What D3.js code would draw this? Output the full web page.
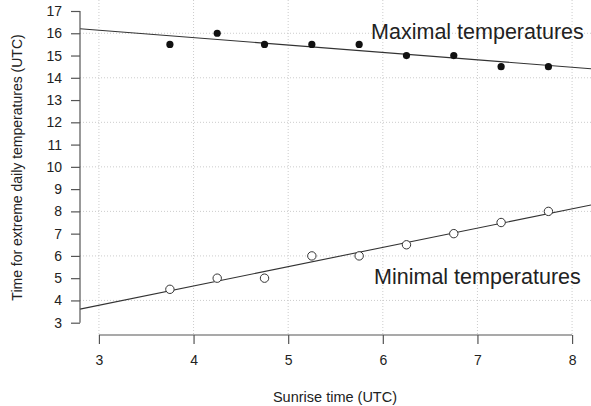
<!DOCTYPE html>
<html><head><meta charset="utf-8">
<script src="https://cdn.jsdelivr.net/npm/d3@7"></script>
<style>
html,body{margin:0;padding:0;background:#fff;}
svg{display:block;font-family:"Liberation Sans",Arial,Helvetica,sans-serif;}
</style></head>
<body><svg id="c" width="591" height="406"></svg>
<script>
const sunrise = [3.75, 4.25, 4.75, 5.25, 5.75, 6.25, 6.75, 7.25, 7.75];
const maxTemps = [15.5, 16, 15.5, 15.5, 15.5, 15, 15, 14.5, 14.5];
const minTemps = [4.5, 5, 5, 6, 6, 6.5, 7, 7.5, 8];
const xTicks = [3, 4, 5, 6, 7, 8];
const yTicks = [3,4,5,6,7,8,9,10,11,12,13,14,15,16,17];
const xGrid = [3, 4, 5, 6, 7, 8];
const yGrid = [4, 6, 8, 10, 12, 14, 16];
const labels = [{text:"Maximal temperatures", x:7, y:16}, {text:"Minimal temperatures", x:7, y:5}];

const svg = d3.select("#c");
const left = 80, right = 591, bottom = 335;
const x = d3.scaleLinear().domain([2.8, 8.2]).range([left, right]);
const y = d3.scaleLinear().domain([3, 17]).range([322.7, 11]);

const textCol = "#222", axisCol = "#555";

// grid
svg.append("g").selectAll("line").data(xGrid).join("line")
  .attr("x1", d=>x(d)).attr("x2", d=>x(d)).attr("y1", 0).attr("y2", bottom)
  .attr("stroke", "#ccc").attr("stroke-width", 1).attr("stroke-dasharray", "1,2");
svg.append("g").selectAll("line").data(yGrid).join("line")
  .attr("x1", left).attr("x2", right).attr("y1", d=>y(d)).attr("y2", d=>y(d))
  .attr("stroke", "#ccc").attr("stroke-width", 1).attr("stroke-dasharray", "1,2");

// regression lines (least squares fit of each series)
function fit(xs, ys){
  const mx = d3.mean(xs), my = d3.mean(ys);
  const sxy = d3.sum(xs, (v,i)=>(v-mx)*(ys[i]-my));
  const sxx = d3.sum(xs, v=>(v-mx)*(v-mx));
  const b = sxy/sxx; return {a: my - b*mx, b};
}
[maxTemps, minTemps].forEach(ys=>{
  const f = fit(sunrise, ys);
  const xs = x.domain();
  svg.append("line")
    .attr("x1", x(xs[0])).attr("y1", y(f.a + f.b*xs[0]))
    .attr("x2", x(xs[1])).attr("y2", y(f.a + f.b*xs[1]))
    .attr("stroke", "#333").attr("stroke-width", 1.1);
});

// points
svg.append("g").selectAll("circle").data(sunrise).join("circle")
  .attr("cx", d=>x(d)).attr("cy", (d,i)=>y(maxTemps[i])).attr("r", 3.6)
  .attr("fill", "#111");
svg.append("g").selectAll("circle").data(sunrise).join("circle")
  .attr("cx", d=>x(d)).attr("cy", (d,i)=>y(minTemps[i])).attr("r", 4.2)
  .attr("fill", "#fff").attr("stroke", "#333").attr("stroke-width", 1);

// axes
const xAxis = svg.append("g").attr("transform", `translate(0,${bottom})`)
  .call(d3.axisBottom(x).tickValues(xTicks).tickSize(9).tickPadding(11).tickFormat(d3.format("d")));
const yAxis = svg.append("g").attr("transform", `translate(${left},0)`)
  .call(d3.axisLeft(y).tickValues(yTicks).tickSize(9).tickPadding(9).tickFormat(d3.format("d")));
[xAxis, yAxis].forEach(g=>{
  g.select(".domain").remove();
  g.selectAll(".tick line").attr("stroke", axisCol).attr("stroke-width", 1.2);
  g.selectAll(".tick text").attr("fill", textCol).attr("font-size", 14)
    .attr("font-family", "Liberation Sans, Arial, sans-serif");
});
xAxis.append("line").attr("x1", x(xTicks[0])).attr("x2", x(xTicks[xTicks.length-1]))
  .attr("y1", 0).attr("y2", 0).attr("stroke", axisCol).attr("stroke-width", 1.2);
yAxis.append("line").attr("y1", y(yTicks[0])).attr("y2", y(yTicks[yTicks.length-1]))
  .attr("x1", 0).attr("x2", 0).attr("stroke", axisCol).attr("stroke-width", 1.2);

// axis titles
svg.append("text").attr("x", 335).attr("y", 398).attr("text-anchor", "middle")
  .attr("dominant-baseline", "middle").attr("font-size", 14.5).attr("fill", textCol)
  .text("Sunrise time (UTC)");
svg.append("text").attr("transform", "translate(18,167.5) rotate(-90)")
  .attr("text-anchor", "middle").attr("dominant-baseline", "middle")
  .attr("font-size", 14).attr("fill", textCol)
  .text("Time for extreme daily temperatures (UTC)");

// labels
svg.append("g").selectAll("text").data(labels).join("text")
  .attr("x", d=>x(d.x)).attr("y", d=>y(d.y)).attr("text-anchor", "middle")
  .attr("dominant-baseline", "middle").attr("font-size", 21.5).attr("fill", textCol)
  .text(d=>d.text);
</script></body></html>
